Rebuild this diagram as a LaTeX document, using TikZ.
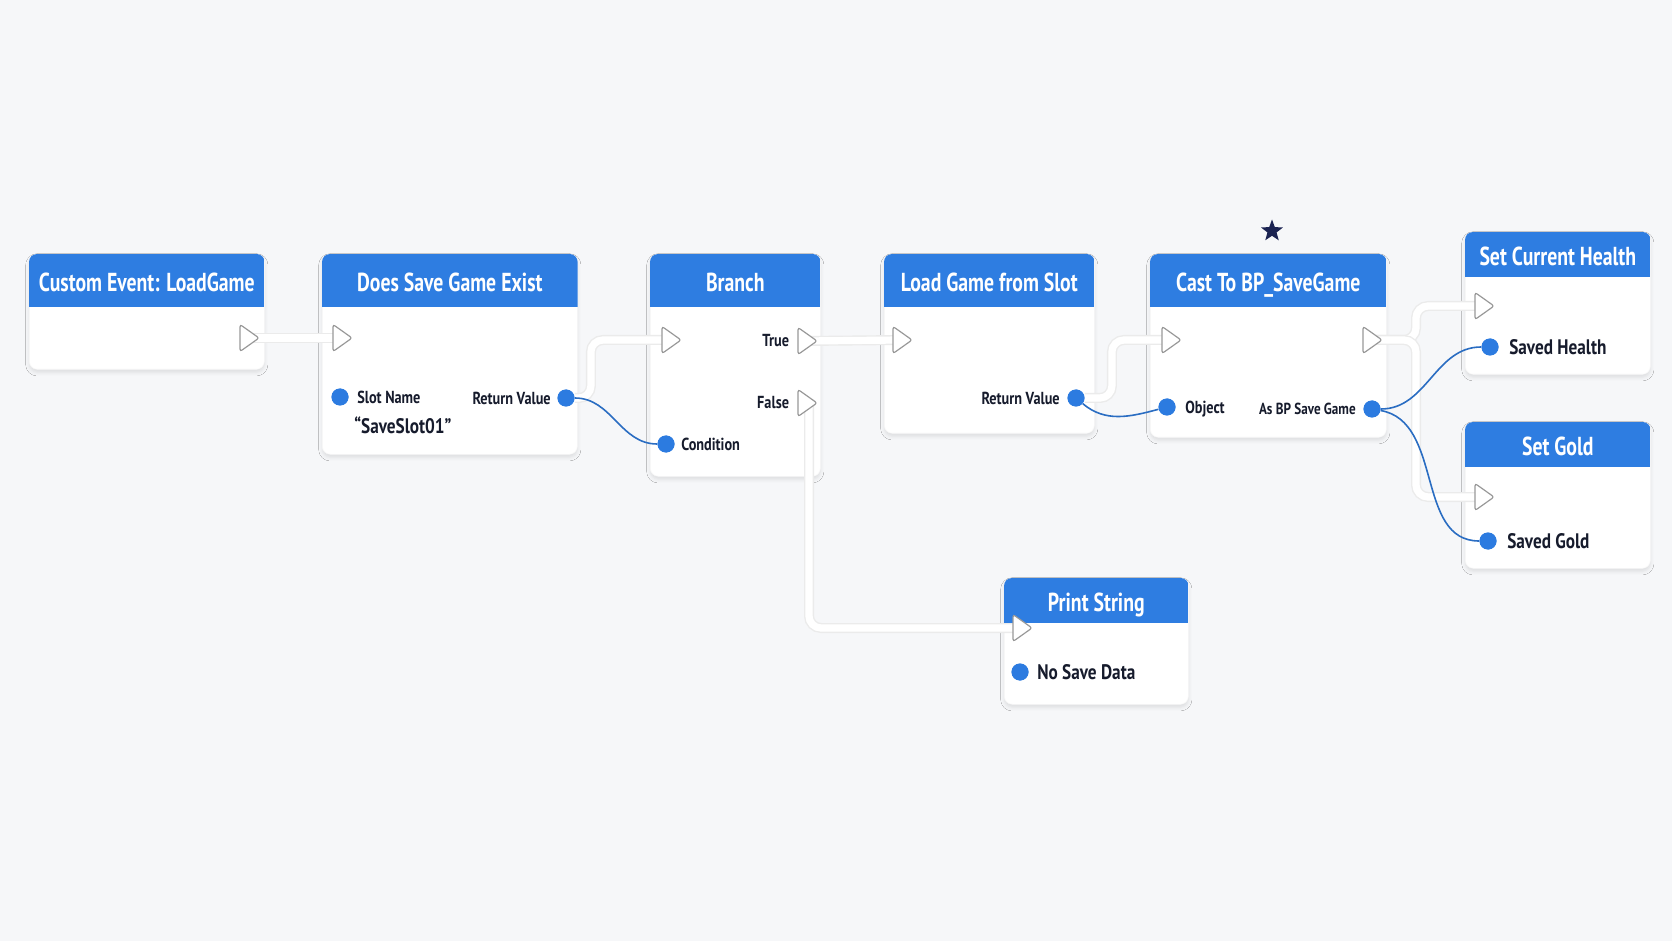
\documentclass[tikz,border=0pt]{standalone}
\usepackage{fontspec}
\setmainfont{PT Sans}[FakeStretch=0.82]
\newfontfamily\titlefont{PT Sans}[FakeStretch=0.76]
\usetikzlibrary{shapes.geometric,shadows.blur}
\definecolor{canvas}{HTML}{F6F7F9}
\definecolor{headblue}{HTML}{2E7DE1}
\definecolor{pinblue}{HTML}{2C7BE0}
\definecolor{wireblue}{HTML}{2A6DC2}
\definecolor{inkdark}{HTML}{161B2C}
\definecolor{starnavy}{HTML}{1B2352}
\tikzset{
  bpblock/.style={rectangle, rounded corners=4pt, fill=white, draw=black!3, line width=0.3pt, inner sep=0pt,
    blur shadow={shadow xshift=0pt, shadow yshift=-1.5pt, shadow blur radius=1.8pt, shadow opacity=10}},
  bptitle/.style={text=white, font=\titlefont\bfseries\fontsize{13}{15}\selectfont, text height=9pt, text depth=2pt},
  execpin/.style={isosceles triangle, isosceles triangle stretches, draw=black!40, fill=white, line width=0.6pt,
    rounded corners=1.2pt, inner sep=0pt, minimum width=13.5pt, minimum height=9.5pt},
  datapin/.style={circle, fill=pinblue, inner sep=0pt, minimum size=8.5pt},
  pinlabel/.style={text=inkdark, font=\bfseries\fontsize{8.7}{10}\selectfont, inner sep=0pt},
  smalllabel/.style={text=inkdark, font=\bfseries\fontsize{8}{9}\selectfont, inner sep=0pt},
  biglabel/.style={text=inkdark, font=\bfseries\fontsize{10.5}{12}\selectfont, inner sep=0pt},
  execwire/.style={line width=3.6pt, white, rounded corners=6pt, preaction={draw=black!8, line width=5pt}},
  datawire/.style={wireblue, line width=0.8pt},
}
% block: name, x, y, width, height, header height, title
\newcommand{\bpbox}[7]{%
  \node[bpblock, anchor=north west, minimum width=#4*0.5pt, minimum height=#5*0.5pt] (#1) at (#2,#3) {};
  \begin{scope}
    \clip[rounded corners=4pt] (#1.south west) rectangle (#1.north east);
    \fill[headblue] (#1.north west) rectangle ([yshift=-#6*0.5pt]#1.north east);
  \end{scope}
  \node[bptitle] (#1-title) at ([yshift=-#6*0.25pt-2.2pt]#1.north) {#7};
}

\begin{document}
\begin{tikzpicture}[x=0.5pt,y=-0.5pt]
    \fill[canvas] (0,0) rectangle (1672,941);
    \useasboundingbox (0,0) rectangle (1672,941);

    % blocks
    \bpbox{event}{29}{254}{235}{115}{53}{Custom Event: LoadGame}
    \bpbox{exists}{322}{254}{255}{200}{53}{Does Save Game Exist}
    \bpbox{branch}{650}{254}{170}{222}{53}{Branch}
    \bpbox{load}{884}{254}{210}{179}{53}{Load Game from Slot}
    \bpbox{cast}{1150}{254}{236}{183}{53}{Cast To BP\_SaveGame}
    \bpbox{health}{1465}{232}{185}{142}{45}{Set Current Health}
    \bpbox{gold}{1465}{422}{185}{146}{45}{Set Gold}
    \bpbox{print}{1004}{578}{184}{126}{45}{Print String}

    \node[star, star points=5, star point ratio=2.4, fill=starnavy, inner sep=0pt, minimum size=11.5pt] (mark) at (1272,231) {};

    % pin positions
    \coordinate (event-out-c) at (247,338);
    \coordinate (exists-in-c) at (340,338);
    \coordinate (branch-in-c) at (669,340);
    \coordinate (branch-true-c) at (805,341);
    \coordinate (branch-false-c) at (805,403);
    \coordinate (load-in-c) at (900,340);
    \coordinate (cast-in-c) at (1169,340);
    \coordinate (cast-out-c) at (1370,340);
    \coordinate (health-in-c) at (1482,306);
    \coordinate (gold-in-c) at (1482,497);
    \coordinate (print-in-c) at (1020,628);

    \node[datapin] (exists-slot) at (340,397) {};
    \node[datapin] (exists-ret) at (566,398) {};
    \node[datapin] (branch-cond) at (666,444) {};
    \node[datapin] (load-ret) at (1076,398) {};
    \node[datapin] (cast-obj) at (1167,407) {};
    \node[datapin] (cast-as) at (1372,409) {};
    \node[datapin] (health-val) at (1490,347) {};
    \node[datapin] (gold-val) at (1488,541) {};
    \node[datapin] (print-val) at (1020,672) {};

    % exec wires
    \draw[execwire] (event-out-c) -- (exists-in-c);
    \draw[execwire] (exists-ret.east) -- ++(16,0) |- (branch-in-c);
    \draw[execwire] (branch-true-c) -- (load-in-c);
    \draw[execwire] ([xshift=2pt]branch-false-c) |- (print-in-c);
    \draw[execwire] (load-ret.east) -- ++(27,0) |- (cast-in-c);
    \draw[execwire] (cast-out-c) -- ++(46,0) |- (health-in-c);
    \draw[execwire] (cast-out-c) -- ++(46,0) |- (gold-in-c);

    % data wires
    \draw[datawire] (exists-ret) to[out=0,in=180] (branch-cond);
    \draw[datawire] (load-ret) to[out=-40,in=195] (cast-obj);
    \draw[datawire] (cast-as) to[out=0,in=180] (health-val);
    \draw[datawire] (cast-as) to[out=-10,in=180] (gold-val);

    % redraw data pins over the wires
    \foreach \p in {exists-slot,exists-ret,branch-cond,load-ret,cast-obj,cast-as,health-val,gold-val,print-val}
        \fill[pinblue] (\p) circle (4.25pt);

    % exec pins
    \node[execpin] (event-out) at (event-out-c) {};
    \node[execpin] (exists-in) at (exists-in-c) {};
    \node[execpin] (branch-in) at (branch-in-c) {};
    \node[execpin] (branch-true) at (branch-true-c) {};
    \node[execpin] (branch-false) at (branch-false-c) {};
    \node[execpin] (load-in) at (load-in-c) {};
    \node[execpin] (cast-in) at (cast-in-c) {};
    \node[execpin] (cast-out) at (cast-out-c) {};
    \node[execpin] (health-in) at (health-in-c) {};
    \node[execpin] (gold-in) at (gold-in-c) {};
    \node[execpin] (print-in) at (print-in-c) {};

    % labels
    \node[pinlabel, right=4pt] (slot-lbl) at (exists-slot.east) {Slot Name};
    \node[biglabel, anchor=west] (slot-val) at (354,425) {“SaveSlot01”};
    \node[pinlabel, left=3pt] (exists-ret-lbl) at (exists-ret.west) {Return Value};
    \node[pinlabel, left=4pt] (true-lbl) at (branch-true.west) {True};
    \node[pinlabel, left=4pt] (false-lbl) at (branch-false.west) {False};
    \node[pinlabel, right=3pt] (cond-lbl) at (branch-cond.east) {Condition};
    \node[pinlabel, left=3.5pt] (load-ret-lbl) at (load-ret.west) {Return Value};
    \node[pinlabel, right=4.5pt] (obj-lbl) at ([yshift=-1pt]cast-obj.east) {Object};
    \node[smalllabel, left=3.5pt] (as-lbl) at (cast-as.west) {As BP Save Game};
    \node[biglabel, right=5pt] (health-lbl) at (health-val.east) {Saved Health};
    \node[biglabel, right=5pt] (gold-lbl) at (gold-val.east) {Saved Gold};
    \node[biglabel, right=4pt] (print-lbl) at (print-val.east) {No Save Data};
\end{tikzpicture}
\end{document}
